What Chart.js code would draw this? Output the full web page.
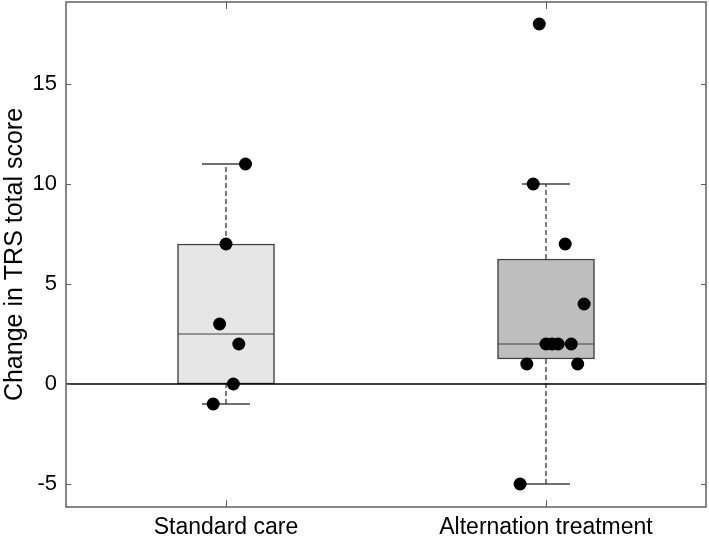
<!DOCTYPE html>
<html>
<head>
<meta charset="utf-8">
<script src="https://cdn.jsdelivr.net/npm/chart.js@4"></script>
<style>
  html, body { margin: 0; padding: 0; background: #fff; }
  #wrap { width: 709px; height: 540px; }
</style>
</head>
<body>
<div id="wrap"><canvas id="boxChart"></canvas></div>
<script>
const categories = ["Standard care", "Alternation treatment"];
const yTicks = [-5, 0, 5, 10, 15];

// box stats per group
const q1 = [0, 1.25];
const median = [2.5, 2];
const q3 = [7, 6.25];
const whiskerLow = [-1, -5];
const whiskerHigh = [11, 10];

// individual patients (values + horizontal jitter)
const standardValues = [11, 7, 3, 2, 0, -1];
const standardJitter = [0.061, 0.0, -0.02, 0.04, 0.023, -0.04];
const alternationValues = [18, 10, 7, 4, 2, 2, 2, 2, 1, 1, -5];
const alternationJitter = [-0.021, -0.04, 0.06, 0.119, 0.0, 0.019, 0.038, 0.079, -0.06, 0.099, -0.081];

const boxColors = ["#e6e6e6", "#bebebe"];
const boxHalf = 0.15;
const capHalf = 0.075;

function lineSet(points, opts) {
  return Object.assign({
    type: "scatter",
    data: points,
    showLine: true,
    pointRadius: 0,
    borderColor: "#404040",
    borderWidth: 1.5,
    fill: false,
    order: 1
  }, opts || {});
}

const datasets = [];

// dots
const dots = [];
standardValues.forEach((v, i) => dots.push({ x: 0 + standardJitter[i], y: v }));
alternationValues.forEach((v, i) => dots.push({ x: 1 + alternationJitter[i], y: v }));
datasets.push({
  type: "scatter",
  data: dots,
  pointRadius: 6.5,
  pointBackgroundColor: "#000",
  pointBorderWidth: 0,
  showLine: false,
  order: 0
});

// zero line
datasets.push(lineSet([{ x: -0.5, y: 0 }, { x: 1.5, y: 0 }], { borderColor: "#000", borderWidth: 1.5, order: 1 }));

categories.forEach((c, i) => {
  // whiskers
  datasets.push(lineSet([{ x: i, y: q3[i] }, { x: i, y: whiskerHigh[i] }], { borderDash: [5, 3], borderColor: "#505050", order: 3 }));
  datasets.push(lineSet([{ x: i, y: whiskerLow[i] }, { x: i, y: q1[i] }], { borderDash: [5, 3], borderColor: "#505050", order: 3 }));
  // caps
  datasets.push(lineSet([{ x: i - capHalf, y: whiskerHigh[i] }, { x: i + capHalf, y: whiskerHigh[i] }], { order: 2 }));
  datasets.push(lineSet([{ x: i - capHalf, y: whiskerLow[i] }, { x: i + capHalf, y: whiskerLow[i] }], { order: 2 }));
  // median
  datasets.push(lineSet([{ x: i - boxHalf, y: median[i] }, { x: i + boxHalf, y: median[i] }], { borderWidth: 1, order: 1 }));
});

// boxes as floating bars
datasets.push({
  type: "bar",
  data: categories.map((c, i) => ({ x: i, y: [q1[i], q3[i]] })),
  backgroundColor: boxColors,
  borderColor: "#404040",
  borderWidth: 1.5,
  borderSkipped: false,
  barThickness: 97,
  order: 2
});

const frame = {
  id: "frame",
  afterDraw(chart) {
    const { ctx, chartArea: a, scales } = chart;
    ctx.save();
    ctx.strokeStyle = "#606060";
    ctx.lineWidth = 1.5;
    ctx.strokeRect(a.left, a.top, a.right - a.left, a.bottom - a.top);
    ctx.lineWidth = 1;
    ctx.beginPath();
    yTicks.forEach(v => {
      const y = Math.round(scales.y.getPixelForValue(v)) + 0.5;
      ctx.moveTo(a.left, y); ctx.lineTo(a.left + 5, y);
      ctx.moveTo(a.right, y); ctx.lineTo(a.right - 5, y);
    });
    categories.forEach((c, i) => {
      const x = Math.round(scales.x.getPixelForValue(i)) + 0.5;
      ctx.moveTo(x, a.bottom); ctx.lineTo(x, a.bottom - 7);
      ctx.moveTo(x, a.top); ctx.lineTo(x, a.top + 7);
    });
    ctx.stroke();
    ctx.restore();
  }
};

new Chart(document.getElementById("boxChart"), {
  type: "scatter",
  data: { datasets: datasets },
  plugins: [frame],
  options: {
    responsive: true,
    maintainAspectRatio: false,
    animation: false,
    layout: { autoPadding: false, padding: { top: 2, right: 3, left: 0, bottom: 0 } },
    plugins: { legend: { display: false }, tooltip: { enabled: false } },
    scales: {
      x: {
        type: "linear",
        min: -0.5,
        max: 1.5,
        offset: false,
        afterBuildTicks: s => { s.ticks = categories.map((c, i) => ({ value: i })); },
        afterFit: s => { s.height = 33; s.paddingLeft = 0; s.paddingRight = 0; },
        grid: { display: false, drawTicks: false },
        border: { display: false },
        ticks: {
          padding: 7,
          color: "#000",
          font: { family: "Liberation Sans, Arial", size: 23 },
          callback: v => categories[v],
          maxRotation: 0
        }
      },
      y: {
        min: -6.15,
        max: 19.1,
        afterBuildTicks: s => { s.ticks = yTicks.map(v => ({ value: v })); },
        afterFit: s => { s.width = 66; s.paddingTop = 0; s.paddingBottom = 0; },
        grid: { display: false, drawTicks: false },
        border: { display: false },
        title: {
          display: true,
          text: "Change in TRS total score",
          color: "#000",
          padding: 0,
          font: { family: "Liberation Sans, Arial", size: 25 }
        },
        ticks: {
          padding: 9,
          color: "#000",
          font: { family: "Liberation Sans, Arial", size: 22 }
        }
      }
    }
  }
});
</script>
</body>
</html>
